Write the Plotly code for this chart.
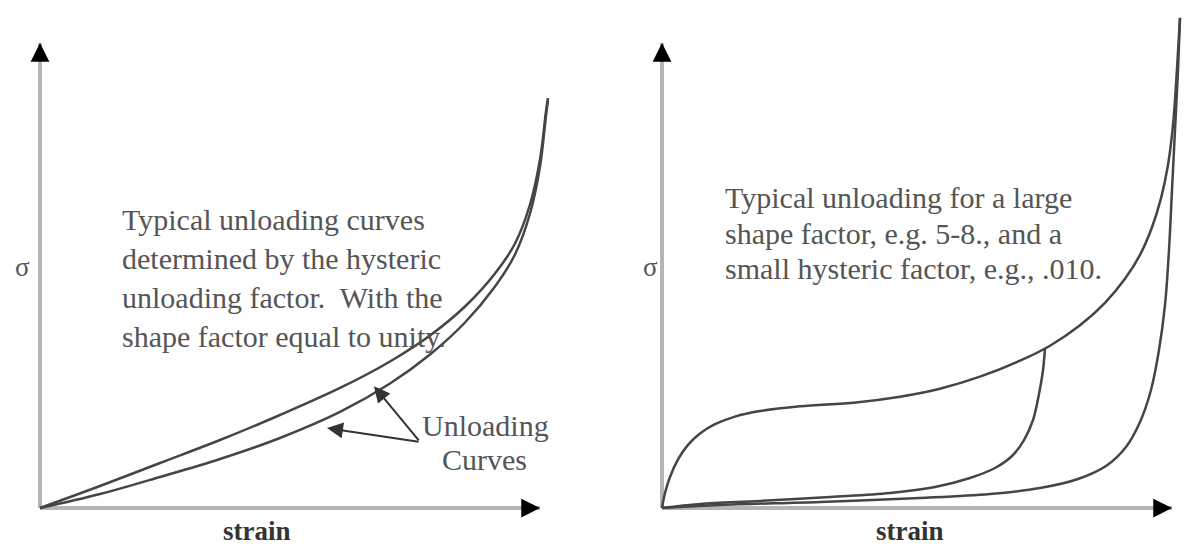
import plotly.graph_objects as go

# ---------------- data (strain, stress in arbitrary units) ----------------
# Left panel: shape factor = 1
left_upper_strain = [0.0, 1.2, 2.4, 3.6, 4.8, 6.0, 7.0, 7.8, 8.5, 9.1, 9.5, 9.8, 10.0, 10.12, 10.16]
left_upper_stress = [0.0, 0.473, 0.968, 1.462, 2.0, 2.581, 3.151, 3.710, 4.333, 5.043,
                     5.688, 6.527, 7.495, 8.527, 8.817]
left_lower_strain = [0.0, 1.2, 2.4, 3.6, 4.8, 6.0, 7.0, 7.8, 8.5, 9.1, 9.5, 9.8, 10.0, 10.12, 10.16]
left_lower_stress = [0.0, 0.301, 0.667, 1.054, 1.505, 2.065, 2.677, 3.301, 3.989, 4.763,
                     5.452, 6.333, 7.344, 8.441, 8.774]

# Right panel: large shape factor, small hysteric factor
right_load_strain = [0.0, 0.059, 0.157, 0.314, 0.510, 0.745, 1.039, 1.431, 1.922, 2.706,
                     3.804, 4.667, 5.451, 6.235, 7.020, 7.608, 8.196, 8.686, 9.078, 9.373,
                     9.608, 9.784, 9.922, 10.020, 10.098, 10.157]
right_load_stress = [0.0, 0.323, 0.667, 1.045, 1.357, 1.602, 1.802, 1.966, 2.084, 2.187,
                     2.271, 2.394, 2.566, 2.824, 3.168, 3.490, 3.929, 4.413, 4.929, 5.445,
                     6.039, 6.658, 7.381, 8.241, 9.445, 10.542]
right_unload1_strain = [7.51, 7.471, 7.392, 7.275, 7.098, 6.863, 6.529, 6.039, 5.353,
                        4.471, 3.294, 1.922, 0.745, 0.0]
right_unload1_stress = [3.437, 2.968, 2.452, 1.892, 1.462, 1.118, 0.860, 0.645, 0.452,
                        0.323, 0.237, 0.151, 0.086, 0.0]
right_unload2_strain = [10.157, 10.118, 10.059, 10.0, 9.941, 9.863, 9.745, 9.588, 9.373,
                        9.098, 8.706, 8.157, 7.412, 6.431, 5.059, 3.098, 1.137, 0.0]
right_unload2_stress = [10.538, 9.419, 8.129, 6.839, 5.548, 4.366, 3.398, 2.538, 1.849,
                        1.312, 0.903, 0.624, 0.430, 0.301, 0.215, 0.129, 0.065, 0.0]

axis_len = 10.0
left_texts = ["Typical unloading curves", "determined by the hysteric",
              "unloading factor.  With the", "shape factor equal to unity."]
right_texts = ["Typical unloading for a large", "shape factor, e.g. 5-8., and a",
               "small hysteric factor, e.g., .010."]
label_lines = ["Unloading", "Curves"]

W, H = 1184, 554
CURVE = "#454545"
AXIS = "#b5b5b5"
TEXT = "#555555"
SERIF = "Liberation Serif"

fig = go.Figure()

def curve(x, y, xa, ya):
    fig.add_trace(go.Scatter(x=x, y=y, mode="lines", xaxis=xa, yaxis=ya, cliponaxis=False,
                             line=dict(color=CURVE, width=2.5, shape="spline", smoothing=1.0),
                             hoverinfo="skip", showlegend=False))

curve(left_upper_strain, left_upper_stress, "x", "y")
curve(left_lower_strain, left_lower_stress, "x", "y")
curve(right_load_strain, right_load_stress, "x2", "y2")
curve(right_unload1_strain, right_unload1_stress, "x2", "y2")
curve(right_unload2_strain, right_unload2_stress, "x2", "y2")

# axes drawn as gray lines with black arrowheads
shapes = []
annotations = []
for xr, yr in (("x", "y"), ("x2", "y2")):
    shapes.append(dict(type="line", xref=xr, yref=yr, x0=0, y0=0, x1=0, y1=axis_len,
                       line=dict(color=AXIS, width=4), layer="below"))
    shapes.append(dict(type="line", xref=xr, yref=yr, x0=0, y0=0, x1=axis_len, y1=0,
                       line=dict(color=AXIS, width=4), layer="below"))
    annotations.append(dict(xref=xr, yref=yr, x=0, y=axis_len, ax=0, ay=16, text="",
                            showarrow=True, arrowhead=2, arrowsize=1.5, arrowwidth=2.5,
                            arrowcolor="black", standoff=0))
    annotations.append(dict(xref=xr, yref=yr, x=axis_len, y=0, ax=-16, ay=0, text="",
                            showarrow=True, arrowhead=2, arrowsize=1.5, arrowwidth=2.5,
                            arrowcolor="black", standoff=0))

# pointer arrows to unloading curves (left panel)
for tx, ty in ((6.68, 2.62), (5.74, 1.72)):
    annotations.append(dict(xref="x", yref="y", x=tx, y=ty, axref="x", ayref="y",
                            ax=7.6, ay=1.42, text="", showarrow=True, arrowhead=2,
                            arrowsize=1.6, arrowwidth=2, arrowcolor="#333333", standoff=0))

def ptxt(text, px, py, size=30, bold=False, anchor="left", color=TEXT):
    annotations.append(dict(xref="paper", yref="paper", x=px / W, y=1 - py / H,
                            xanchor=anchor, yanchor="middle", showarrow=False,
                            text=("<b>%s</b>" % text) if bold else text,
                            font=dict(family=SERIF, size=size, color=color)))

for i, t in enumerate(left_texts):
    ptxt(t, 120, 219 + 39 * i)
for i, t in enumerate(right_texts):
    ptxt(t, 723, 198 + 35 * i, size=30)
ptxt(label_lines[0], 420, 425)
ptxt(label_lines[1], 440, 459)
ptxt("strain", 257, 531, size=27, bold=True, anchor="center", color="#333333")
ptxt("strain", 910, 531, size=27, bold=True, anchor="center", color="#333333")
ptxt("σ", 22, 267, size=27, anchor="center")
ptxt("σ", 650, 267, size=27, anchor="center")

yr = [-46 / 46.5, 508 / 46.5]
fig.update_layout(
    width=W, height=H, margin=dict(l=0, r=0, t=0, b=0),
    paper_bgcolor="white", plot_bgcolor="white",
    xaxis=dict(domain=[0, 0.5], range=[-40 / 50, 552 / 50], visible=False, anchor="y"),
    yaxis=dict(domain=[0, 1], range=yr, visible=False, anchor="x"),
    xaxis2=dict(domain=[0.5, 1], range=[-70 / 51, 522 / 51], visible=False, anchor="y2"),
    yaxis2=dict(domain=[0, 1], range=yr, visible=False, anchor="x2"),
    shapes=shapes, annotations=annotations, showlegend=False,
)

fig.write_html("out.html", config={"displayModeBar": False},
               post_script="document.body.style.margin='0px';")
